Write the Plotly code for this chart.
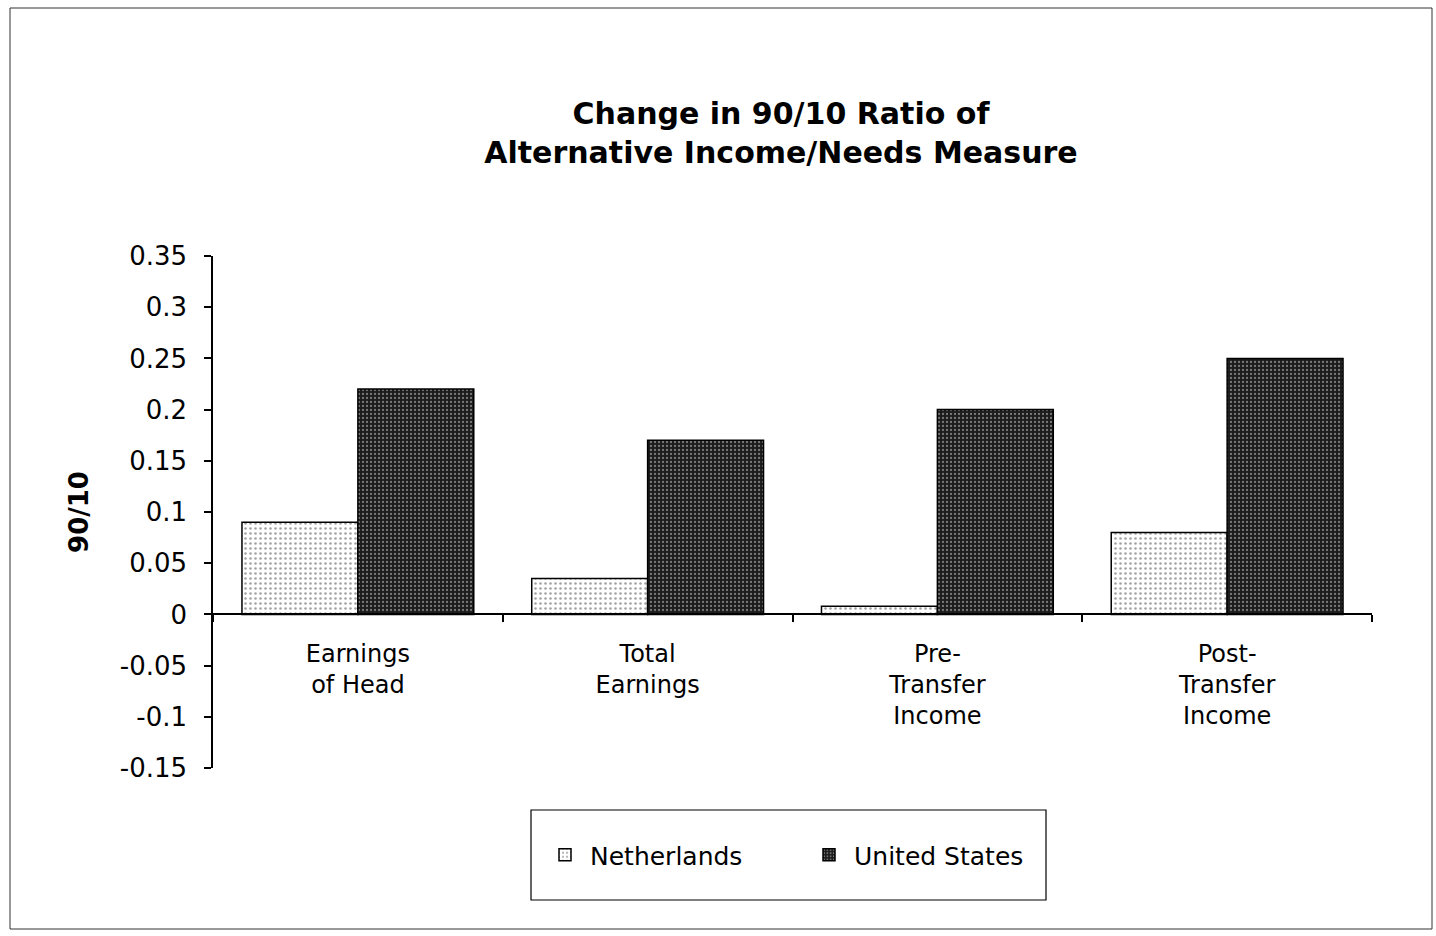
import plotly.graph_objects as go

# Categories and series values
categories = ["Earnings<br>of Head", "Total<br>Earnings", "Pre-<br>Transfer<br>Income", "Post-<br>Transfer<br>Income"]
netherlands = [0.09, 0.035, 0.008, 0.08]
united_states = [0.22, 0.17, 0.20, 0.25]

# Y axis ticks
y_tickvals = [-0.15, -0.1, -0.05, 0, 0.05, 0.1, 0.15, 0.2, 0.25, 0.3, 0.35]
y_ticktext = ["-0.15", "-0.1", "-0.05", "0", "0.05", "0.1", "0.15", "0.2", "0.25", "0.3", "0.35"]
y_range = [-0.15, 0.35]

FONT = "DejaVu Sans"
W, H = 1436, 936
ML, MR, MT, MB = 213, 64, 256, 168
plot_w = W - ML - MR
plot_h = H - MT - MB


def px_x(x):
    return (x - ML) / plot_w


def px_y(y):
    return (H - MB - y) / plot_h


zero_pos = (0 - y_range[0]) / (y_range[1] - y_range[0])

fig = go.Figure()
fig.add_trace(go.Bar(
    name="Netherlands", x=categories, y=netherlands,
    marker=dict(color="white", line=dict(color="black", width=1.5),
                pattern=dict(shape=".", fgcolor="#444444", bgcolor="white", size=5, solidity=0.2)),
))
fig.add_trace(go.Bar(
    name="United States", x=categories, y=united_states,
    marker=dict(color="#1c1c1c", line=dict(color="black", width=1.5),
                pattern=dict(shape=".", fgcolor="#d8d8d8", bgcolor="#1c1c1c", size=4, solidity=0.25)),
))

boundaries = [i + 0.5 for i in range(len(categories))]

fig.update_layout(
    width=W, height=H,
    margin=dict(l=ML, r=MR, t=MT, b=MB),
    paper_bgcolor="white", plot_bgcolor="white",
    barmode="group", bargap=0.2, bargroupgap=0,
    font=dict(family=FONT, color="black", size=23),
    showlegend=True,
    title=dict(
        text="<b>Change in 90/10 Ratio of<br>Alternative Income/Needs Measure</b>",
        font=dict(family=FONT, size=30, color="black"),
        x=px_x(781), xref="paper", xanchor="center",
        y=1 - 124 / H, yref="container", yanchor="middle",
    ),
    xaxis=dict(
        type="category", anchor="free", position=zero_pos,
        showline=True, linecolor="black", linewidth=1.5,
        ticks="outside", ticklen=7, tickwidth=1.5, tickcolor="black",
        tickson="boundaries", showgrid=False, zeroline=False,
        tickfont=dict(family=FONT, size=24), ticklabelstandoff=18,
        range=[-0.5, 3.5],
    ),
    xaxis2=dict(
        overlaying="x", anchor="free", position=zero_pos,
        range=[-0.5, 3.5], tickvals=boundaries,
        ticks="inside", ticklen=7, tickwidth=1.5, tickcolor="black",
        showticklabels=False, showline=False, showgrid=False, zeroline=False,
    ),
    yaxis=dict(
        range=y_range, tickvals=y_tickvals, ticktext=y_ticktext,
        showline=True, linecolor="black", linewidth=1.5,
        ticks="outside", ticklen=7, tickwidth=1.5, tickcolor="black",
        showgrid=False, zeroline=False,
        tickfont=dict(family=FONT, size=26), ticklabelstandoff=12,
        title=dict(text="<b>90/10</b>", font=dict(family=FONT, size=26), standoff=24),
    ),
    yaxis2=dict(
        overlaying="y", anchor="x", side="left",
        range=y_range, tickvals=y_tickvals,
        ticks="inside", ticklen=6, tickwidth=1.5, tickcolor="black",
        showticklabels=False, showline=False, showgrid=False, zeroline=False,
    ),
    legend=dict(
        orientation="h", x=px_x(540), xanchor="left",
        y=px_y(855), yanchor="middle",
        font=dict(family=FONT, size=25), bgcolor="rgba(0,0,0,0)",
        itemwidth=40, entrywidth=209, traceorder="normal",
    ),
    shapes=[
        # legend frame
        dict(type="rect", xref="paper", yref="paper",
             x0=px_x(531), x1=px_x(1046), y0=px_y(900), y1=px_y(810),
             line=dict(color="black", width=1.2)),
        # outer frame
        dict(type="rect", xref="paper", yref="paper",
             x0=px_x(10), x1=px_x(1432), y0=px_y(929), y1=px_y(8),
             line=dict(color="#333333", width=1)),
    ],
)

fig.write_html("out.html")
